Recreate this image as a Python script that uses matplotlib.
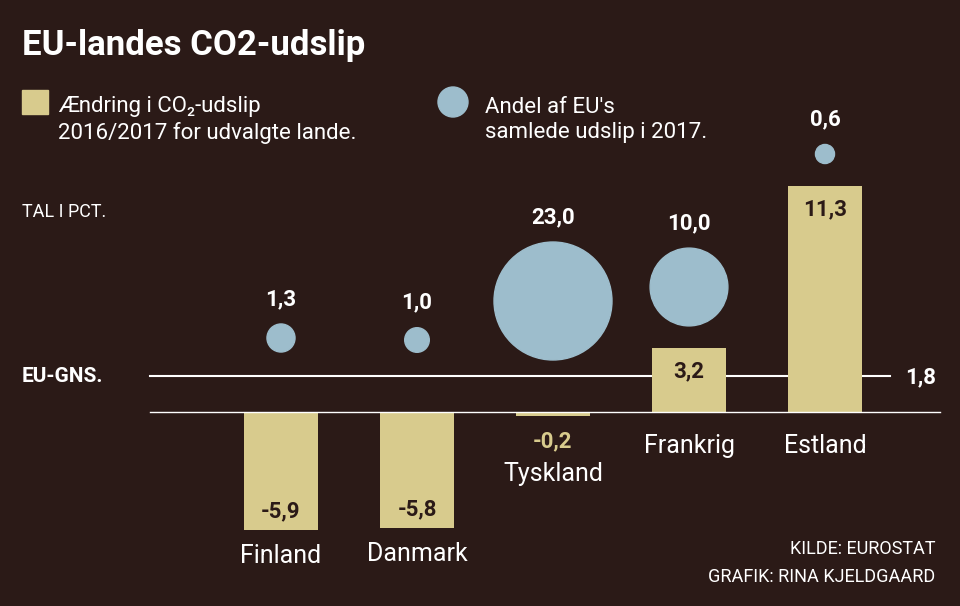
import matplotlib.pyplot as plt
from matplotlib.patches import Ellipse, Rectangle
import numpy as np

plt.rcParams['font.family'] = ['Roboto', 'DejaVu Sans']

lande = ['Finland', 'Danmark', 'Tyskland', 'Frankrig', 'Estland']
aendring = [-5.9, -5.8, -0.2, 3.2, 11.3]
andel = [1.3, 1.0, 23.0, 10.0, 0.6]
eu_gns = 1.8
# circle centre heights (layout, value units)
cirkel_y = [3.7, 3.6, 5.55, 6.25, 12.9]

BG = '#2b1a17'
BAR = '#d8cb8d'
BLUE = '#9dbdcc'
W, H = 960, 606
PX_X, PX_Y = 136, 20  # pixels per unit

fig = plt.figure(figsize=(W / 100, H / 100), dpi=100, facecolor=BG)
ax = fig.add_axes([0, 0, 1, 1])
ax.set_facecolor(BG)
ax.set_xlim(-281 / PX_X, (W - 281) / PX_X)
ax.set_ylim((412 - H) / PX_Y, 412 / PX_Y)
ax.axis('off')

x = np.arange(len(lande))
ax.bar(x, aendring, width=74 / PX_X, color=BAR, zorder=2)

ax.plot([(150 - 281) / PX_X, (940 - 281) / PX_X], [0, 0], color='white', lw=1, zorder=3)
ax.plot([(150 - 281) / PX_X, (890 - 281) / PX_X], [eu_gns, eu_gns], color='white', lw=1.5, zorder=1)


def num(v):
    return f'{v:.1f}'.replace('.', ',')


for i, (v, a, cy) in enumerate(zip(aendring, andel, cirkel_y)):
    d = 24.6 * np.sqrt(a)
    ax.add_patch(Ellipse((i, cy), d / PX_X, d / PX_Y, color=BLUE, zorder=2))
    ax.text(i, cy + (d / 2 + 14) / PX_Y, num(a), color='white', ha='center', va='bottom',
            fontsize=16, fontweight='bold')
    if v >= 3:
        ax.text(i, v - 0.6, num(v), color=BG, ha='center', va='top', fontsize=16, fontweight='bold')
        ax.text(i, -1.1, lande[i], color='white', ha='center', va='top', fontsize=18)
    elif v > -1:
        ax.text(i, v - 0.7, num(v), color=BAR, ha='center', va='top', fontsize=16, fontweight='bold')
        ax.text(i, -2.5, lande[i], color='white', ha='center', va='top', fontsize=18)
    else:
        ax.text(i, v + 0.4, num(v), color=BG, ha='center', va='bottom', fontsize=16, fontweight='bold')
        ax.text(i, v - 0.7, lande[i], color='white', ha='center', va='top', fontsize=18)


def ft(px, py, s, **kw):
    fig.text(px / W, 1 - py / H, s, color='white', **kw)


ft(22, 45, 'EU-landes CO2-udslip', fontsize=25, fontweight='bold', va='center')
fig.patches.append(Rectangle((22 / W, 1 - 114 / H), 26 / W, 24 / H, transform=fig.transFigure,
                             color=BAR))
ft(58, 120, 'Ændring i CO₂-udslip\n2016/2017 for udvalgte lande.', fontsize=16, va='center',
   linespacing=1.3)
fig.patches.append(Ellipse((453 / W, 1 - 102 / H), 30 / W, 30 / H, transform=fig.transFigure,
                           color=BLUE))
ft(485, 120, "Andel af EU's\nsamlede udslip i 2017.", fontsize=16, va='center', linespacing=1.3)
ft(22, 212, 'TAL I PCT.', fontsize=13, va='center')
ft(22, 377, 'EU-GNS.', fontsize=15, fontweight='bold', va='center')
ft(905, 377, num(eu_gns), fontsize=16, fontweight='bold', va='center')
ft(935, 549, 'KILDE: EUROSTAT', fontsize=13, ha='right', va='center')
ft(935, 577, 'GRAFIK: RINA KJELDGAARD', fontsize=13, ha='right', va='center')

fig.savefig('out.png', dpi=100, facecolor=BG)
